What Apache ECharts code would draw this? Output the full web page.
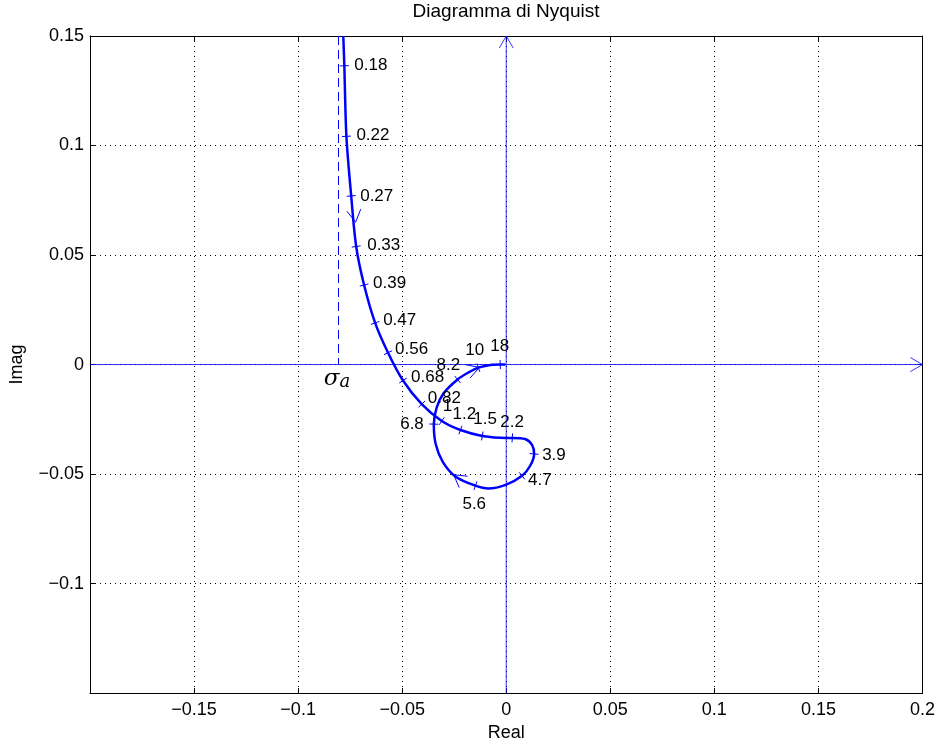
<!DOCTYPE html>
<html>
<head>
<meta charset="utf-8">
<script src="https://cdn.jsdelivr.net/npm/echarts@6/dist/echarts.min.js"></script>
<style>
html,body{margin:0;padding:0;background:#fff;}
#chart{width:938px;height:747px;}
</style>
</head>
<body>
<div id="chart"></div>
<script>
// ---- Data ----
const titleText = 'Diagramma di Nyquist';
const xName = 'Real';
const yName = 'Imag';
const xTicks = [-0.2, -0.15, -0.1, -0.05, 0, 0.05, 0.1, 0.15, 0.2];
const yTicks = [-0.15, -0.1, -0.05, 0, 0.05, 0.1, 0.15];

// Nyquist curve (real, imaginary), ordered by increasing frequency
const curveRe = [-0.0783, -0.0778, -0.0768, -0.0745, -0.0721, -0.0683, -0.0630, -0.0568, -0.0496, -0.0406,
                 -0.0310, -0.0220, -0.0115, 0.0000, 0.0029, 0.0091, 0.0124, 0.0134, 0.0115, 0.0076,
                 0.0000, -0.0086, -0.0148, -0.0243, -0.0305, -0.0339, -0.0348, -0.0334, -0.0301, -0.0234,
                 -0.0181, -0.0134, -0.0076, -0.0029, -0.0005];
const curveIm = [0.1500, 0.1364, 0.1042, 0.0770, 0.0539, 0.0363, 0.0190, 0.0054, -0.0073, -0.0181,
                 -0.0258, -0.0299, -0.0326, -0.0335, -0.0335, -0.0340, -0.0367, -0.0408, -0.0462, -0.0508,
                 -0.0548, -0.0566, -0.0553, -0.0512, -0.0444, -0.0363, -0.0272, -0.0195, -0.0131, -0.0068,
                 -0.0036, -0.0014, -0.0002, 0.0000, 0.0000];

// Frequency marks along the curve
const freqLabels = ['0.18', '0.22', '0.27', '0.33', '0.39', '0.47', '0.56', '0.68', '0.82', '1',
                    '1.2', '1.5', '2.2', '3.9', '4.7', '5.6', '6.8', '8.2', '10', '18'];
const freqRe = [-0.0778, -0.0768, -0.0745, -0.0721, -0.0683, -0.0630, -0.0568, -0.0496, -0.0406, -0.0310,
                -0.0220, -0.0115, 0.0029, 0.0134, 0.0076, -0.0148, -0.0348, -0.0234, -0.0134, -0.0029];
const freqIm = [0.1364, 0.1042, 0.0770, 0.0539, 0.0363, 0.0190, 0.0054, -0.0073, -0.0181, -0.0258,
                -0.0299, -0.0326, -0.0335, -0.0408, -0.0508, -0.0553, -0.0272, -0.0068, -0.0014, 0.0000];

// Direction arrows on the curve
const arrowRe = [-0.0724, -0.0253, -0.0129];
const arrowIm = [0.0650, -0.0503, -0.0013];

// Asymptote
const sigmaA = -0.0806;
const sigmaLabel = 'σ';
const sigmaSub = 'a';

// ---- Style / layout (not data) ----
const BLUE = '#0000ff';
const FONT = '"Liberation Sans", Arial, Helvetica, sans-serif';
const labelLayout = { // [dx, dy, align] relative to tick mark pixel
  '0.18':[10,0,'left'], '0.22':[10,-1,'left'], '0.27':[9,0,'left'], '0.33':[11,-1,'left'],
  '0.39':[9,-2,'left'], '0.47':[8,-3,'left'], '0.56':[7,-3,'left'], '0.68':[8,-3,'left'],
  '0.82':[6,-6,'left'], '1':[1,-15,'left'], '1.2':[-8,-16,'left'], '1.5':[-9,-17,'left'],
  '2.2':[-12,-16,'left'], '3.9':[8,1,'left'], '4.7':[6,4,'left'], '5.6':[-13,19,'left'],
  '6.8':[-10,0,'right'], '8.2':[-21,-14,'left'], '10':[-13,-17,'left'], '18':[-10,-18,'left']
};

const curveData = curveRe.map((r, i) => [r, curveIm[i]]);
const freqData = freqRe.map((r, i) => [r, freqIm[i], i]);
const arrowData = arrowRe.map((r, i) => [r, arrowIm[i]]);

function nearestIdx(re, im) {
  let best = 0, bd = Infinity;
  for (let i = 0; i < curveRe.length; i++) {
    const d = (curveRe[i] - re) ** 2 + (curveIm[i] - im) ** 2;
    if (d < bd) { bd = d; best = i; }
  }
  return best;
}
function tangentAt(api, re, im) {
  const i = nearestIdx(re, im);
  const a = Math.max(0, i - 1), b = Math.min(curveRe.length - 1, i + 1);
  const pa = api.coord([curveRe[a], curveIm[a]]);
  const pb = api.coord([curveRe[b], curveIm[b]]);
  let tx = pb[0] - pa[0], ty = pb[1] - pa[1];
  const L = Math.hypot(tx, ty) || 1;
  return [tx / L, ty / L];
}
function arrowHead(p, t, len, ang, style) {
  const c = Math.cos(ang), s = Math.sin(ang);
  const w1 = [-(t[0] * c - t[1] * s), -(t[0] * s + t[1] * c)];
  const w2 = [-(t[0] * c + t[1] * s), -(-t[0] * s + t[1] * c)];
  return {
    type: 'polyline',
    shape: { points: [[p[0] + w1[0] * len, p[1] + w1[1] * len], p, [p[0] + w2[0] * len, p[1] + w2[1] * len]] },
    style: style
  };
}
const minusFmt = v => {
  let s = String(Math.round(v * 1000) / 1000);
  return s.replace('-', '\u2212');
};

const chart = echarts.init(document.getElementById('chart'));
const axisCommon = {
  type: 'value',
  axisLine: { show: true, onZero: false, lineStyle: { color: '#000', width: 1 } },
  axisTick: { show: true, inside: true, length: 5, lineStyle: { color: '#000' } },
};
chart.setOption({
  animation: false,
  backgroundColor: '#fff',
  grid: { left: 88, right: 13, top: 36, bottom: 50, containLabel: false },
  graphic: [{
    type: 'text', x: 506, y: 12,
    style: { text: titleText, font: '19px ' + FONT, fill: '#000', align: 'center', verticalAlign: 'middle' }
  }],
  xAxis: [
    Object.assign({}, axisCommon, {
      min: xTicks[0], max: xTicks[xTicks.length - 1], interval: 0.05,
      position: 'bottom',
      name: xName, nameLocation: 'middle', nameGap: 29,
      nameTextStyle: { fontFamily: FONT, fontSize: 18, color: '#000' },
      axisLabel: { show: true, showMinLabel: false, margin: 8, formatter: minusFmt,
        fontFamily: FONT, fontSize: 18, color: '#000' },
      splitLine: { show: true, lineStyle: { color: '#000', type: [1, 4], width: 1 } }
    }),
    Object.assign({}, axisCommon, {
      min: xTicks[0], max: xTicks[xTicks.length - 1], interval: 0.05,
      position: 'top', axisLabel: { show: false }, splitLine: { show: false }
    })
  ],
  yAxis: [
    Object.assign({}, axisCommon, {
      min: yTicks[0], max: yTicks[yTicks.length - 1], interval: 0.05,
      position: 'left',
      name: yName, nameLocation: 'middle', nameGap: 64,
      nameTextStyle: { fontFamily: FONT, fontSize: 18, color: '#000' },
      axisLabel: { show: true, showMinLabel: false, margin: 6, formatter: minusFmt,
        fontFamily: FONT, fontSize: 18, color: '#000' },
      splitLine: { show: true, lineStyle: { color: '#000', type: [1, 4], width: 1 } }
    }),
    Object.assign({}, axisCommon, {
      min: yTicks[0], max: yTicks[yTicks.length - 1], interval: 0.05,
      position: 'right', axisLabel: { show: false }, splitLine: { show: false }
    })
  ],
  series: [
    { // real axis
      type: 'line', data: [[xTicks[0], 0], [xTicks[xTicks.length - 1], 0]],
      symbol: 'none', silent: true, lineStyle: { color: BLUE, width: 1, opacity: 0.8 }, z: 3
    },
    { // imaginary axis
      type: 'line', data: [[0, yTicks[0]], [0, yTicks[yTicks.length - 1]]],
      symbol: 'none', silent: true, lineStyle: { color: BLUE, width: 1, opacity: 0.8 }, z: 3
    },
    { // asymptote
      type: 'line', data: [[sigmaA, yTicks[yTicks.length - 1]], [sigmaA, 0]],
      symbol: 'none', silent: true, lineStyle: { color: BLUE, width: 1, type: [9, 5] }, z: 3
    },
    { // Nyquist curve
      type: 'line', data: curveData, symbol: 'none', smooth: 0.3,
      lineStyle: { color: BLUE, width: 2.5 }, z: 5
    },
    { // frequency marks + labels
      type: 'custom', data: freqData, encode: { x: 0, y: 1 }, z: 6,
      renderItem: function (params, api) {
        const re = api.value(0), im = api.value(1), idx = api.value(2);
        const p = api.coord([re, im]);
        const t = tangentAt(api, re, im);
        const n = [-t[1], t[0]];
        const h = 4.5;
        const lab = freqLabels[idx];
        const lay = labelLayout[lab] || [8, 0, 'left'];
        return {
          type: 'group',
          children: [
            { type: 'line', shape: { x1: p[0] - n[0] * h, y1: p[1] - n[1] * h, x2: p[0] + n[0] * h, y2: p[1] + n[1] * h },
              style: { stroke: BLUE, lineWidth: 1 } },
            { type: 'text', x: p[0] + lay[0], y: p[1] + lay[1],
              style: { text: lab, font: '17px ' + FONT, fill: '#000', align: lay[2], verticalAlign: 'middle' } }
          ]
        };
      }
    },
    { // direction arrows
      type: 'custom', data: arrowData, encode: { x: 0, y: 1 }, z: 6,
      renderItem: function (params, api) {
        const re = api.value(0), im = api.value(1);
        const p = api.coord([re, im]);
        const t = tangentAt(api, re, im);
        return arrowHead(p, t, 14, Math.PI / 6, { stroke: BLUE, lineWidth: 1, fill: null });
      }
    },
    { // axis arrowheads
      type: 'custom', data: [[xTicks[xTicks.length - 1], 0, 1, 0], [0, yTicks[yTicks.length - 1], 0, -1]],
      encode: { x: 0, y: 1 }, z: 6, clip: false,
      renderItem: function (params, api) {
        const p = api.coord([api.value(0), api.value(1)]);
        return arrowHead(p, [api.value(2), api.value(3)], 14, Math.PI / 6, { stroke: BLUE, lineWidth: 1, fill: null, opacity: 0.8 });
      }
    },
    { // sigma_a label
      type: 'custom', data: [[sigmaA, 0]], encode: { x: 0, y: 1 }, z: 6,
      renderItem: function (params, api) {
        const p = api.coord([api.value(0), api.value(1)]);
        return {
          type: 'group', children: [
            { type: 'text', x: p[0] + 1, y: p[1] + 14,
              style: { text: sigmaLabel, font: 'italic 23px "DejaVu Serif", "Liberation Serif", serif', fill: '#000', align: 'right', verticalAlign: 'middle' } },
            { type: 'text', x: p[0] + 1, y: p[1] + 18,
              style: { text: sigmaSub, font: 'italic 18px "DejaVu Serif", "Liberation Serif", serif', fill: '#000', align: 'left', verticalAlign: 'middle' } }
          ]
        };
      }
    }
  ]
});
</script>
</body>
</html>
